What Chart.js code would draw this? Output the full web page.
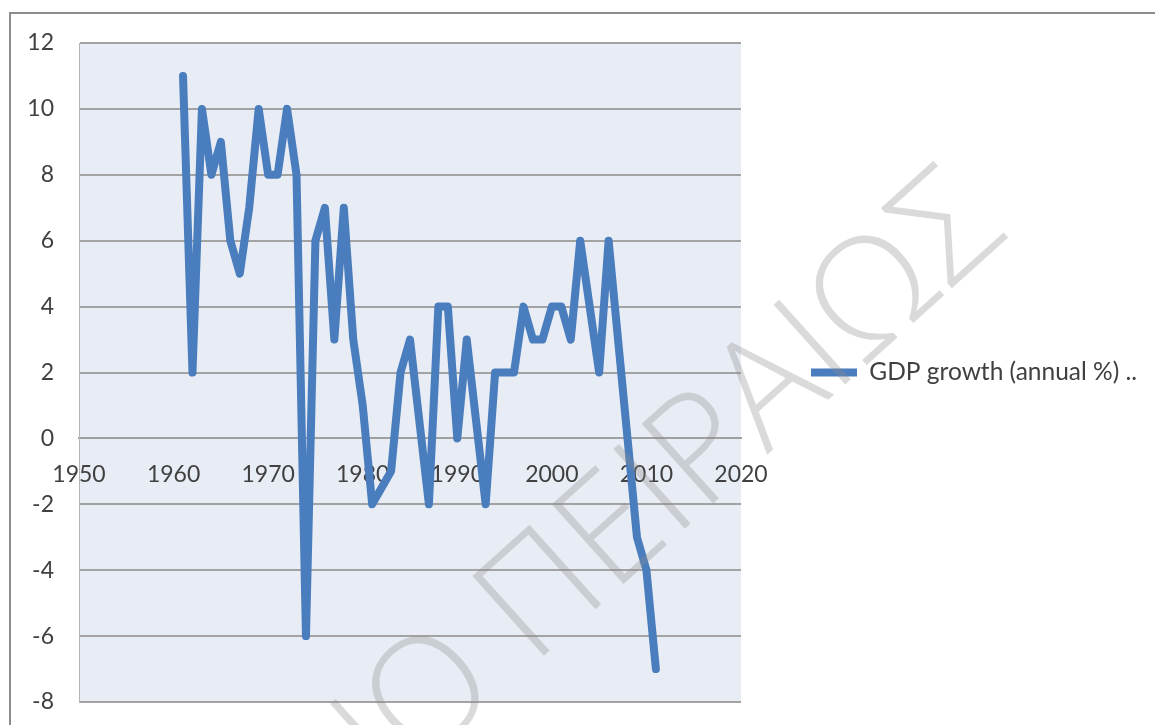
<!DOCTYPE html>
<html>
<head>
<meta charset="utf-8">
<script src="https://cdn.jsdelivr.net/npm/chart.js@4.4.1/dist/chart.umd.min.js"></script>
<style>
  html, body { margin: 0; padding: 0; background: #ffffff; }
  #wrap { width: 1155px; height: 725px; }
</style>
</head>
<body>
<div id="wrap"><canvas id="c" width="1155" height="725"></canvas></div>
<script>
// Greece, GDP growth (annual %), 1961-2011
const years = [
  1961, 1962, 1963, 1964, 1965, 1966, 1967, 1968, 1969, 1970,
  1971, 1972, 1973, 1974, 1975, 1976, 1977, 1978, 1979, 1980,
  1981, 1982, 1983, 1984, 1985, 1986, 1987, 1988, 1989, 1990,
  1991, 1992, 1993, 1994, 1995, 1996, 1997, 1998, 1999, 2000,
  2001, 2002, 2003, 2004, 2005, 2006, 2007, 2008, 2009, 2010, 2011
];
const growth = [
  11, 2, 10, 8, 9, 6, 5, 7, 10, 8,
  8, 10, 8, -6, 6, 7, 3, 7, 3, 1,
  -2, -1.5, -1, 2, 3, 0.5, -2, 4, 4, 0,
  3, 0.5, -2, 2, 2, 2, 4, 3, 3, 4,
  4, 3, 6, 4, 2, 6, 3, 0, -3, -4, -7
];
const seriesName = 'GDP growth (annual %) ..';
const xTicks = [1950, 1960, 1970, 1980, 1990, 2000, 2010, 2020];
const yTicks = [-8, -6, -4, -2, 0, 2, 4, 6, 8, 10, 12];
const watermark = 'ΠΑΝΕΠΙΣΤΗΜΙΟ ΠΕΙΡΑΙΩΣ';

const FONT = 'Lato, "Open Sans", "Liberation Sans", sans-serif';
const FONT_SIZE = 23;
const LEGEND_FONT_SIZE = 24.5;
const TEXT = '#404040';
const LINE = '#4a7dbd';

// plot geometry
const PLOT_LEFT = 79, PLOT_RIGHT = 741, PLOT_TOP = 43, PLOT_BOTTOM = 702;
const LEG_PAD = 70, LEG_LINE = 46;

const chartFrame = {
  id: 'chartFrame',
  beforeDraw(chart) {
    const { ctx, chartArea: a } = chart;
    ctx.save();
    ctx.fillStyle = '#ffffff';
    ctx.fillRect(0, 0, chart.width, chart.height);
    ctx.fillStyle = '#e8ecf4';
    ctx.fillRect(a.left, a.top, a.right - a.left, a.bottom - a.top);
    // outer chart border
    ctx.strokeStyle = '#8c8c8c';
    ctx.lineWidth = 2;
    ctx.beginPath();
    ctx.moveTo(10, chart.height + 5);
    ctx.lineTo(10, 13);
    ctx.lineTo(chart.width + 5, 13);
    ctx.stroke();
    ctx.restore();
  },
  afterDraw(chart) {
    const { ctx } = chart;
    ctx.save();
    ctx.translate(1010, 236);
    ctx.rotate(-42 * Math.PI / 180);
    ctx.font = '300 150px "Open Sans", "Noto Sans", "DejaVu Sans", sans-serif';
    ctx.fillStyle = 'rgba(140,140,140,0.32)';
    ctx.textAlign = 'right';
    ctx.textBaseline = 'alphabetic';
    ctx.fillText(watermark, 0, 0);
    ctx.restore();
  }
};

const config = {
  type: 'scatter',
  data: {
    datasets: [{
      label: seriesName,
      data: years.map((y, i) => ({ x: y, y: growth[i] })),
      showLine: true,
      borderColor: LINE,
      backgroundColor: LINE,
      borderWidth: 8,
      borderJoinStyle: 'round',
      borderCapStyle: 'round',
      pointRadius: 0,
      pointHoverRadius: 0,
      tension: 0
    }]
  },
  options: {
    responsive: false,
    animation: false,
    events: [],
    layout: { padding: { left: 0, top: PLOT_TOP, bottom: 725 - PLOT_BOTTOM, right: 10 } },
    scales: {
      x: {
        type: 'linear',
        min: 1950,
        max: 2020,
        position: { y: 0 },
        afterBuildTicks(scale) { scale.ticks = xTicks.map(v => ({ value: v })); },
        ticks: {
          callback: v => String(v),
          color: TEXT,
          font: { family: FONT, size: FONT_SIZE },
          padding: 22,
          maxRotation: 0,
          autoSkip: false
        },
        grid: { display: false, drawTicks: false },
        border: { display: true, color: '#a0a0a0', width: 2 }
      },
      y: {
        type: 'linear',
        min: -8,
        max: 12,
        afterBuildTicks(scale) { scale.ticks = yTicks.map(v => ({ value: v })); },
        afterFit(scale) { scale.width = PLOT_LEFT; },
        ticks: {
          callback: v => String(v),
          color: TEXT,
          font: { family: FONT, size: FONT_SIZE },
          padding: 0
        },
        // invisible tick marks keep the labels clear of the plot edge
        grid: { color: '#a3a3a3', lineWidth: 2, drawTicks: true, tickLength: 25, tickColor: 'rgba(0,0,0,0)' },
        border: { display: true, color: '#b4b4b4', width: 1 }
      }
    },
    plugins: {
      tooltip: { enabled: false },
      legend: {
        display: true,
        position: 'right',
        align: 'center',
        maxWidth: 600,
        labels: {
          usePointStyle: true,
          pointStyle: 'line',
          pointStyleWidth: LEG_LINE,
          padding: LEG_PAD,
          color: TEXT,
          font: { family: FONT, size: LEGEND_FONT_SIZE }
        }
      }
    }
  },
  plugins: [chartFrame]
};

const chart = new Chart(document.getElementById('c'), config);

// settle the plot area on its intended edges
const pad = config.options.layout.padding;
for (let i = 0; i < 3; i++) {
  const a = chart.chartArea;
  pad.right += a.right - PLOT_RIGHT;
  pad.bottom += a.bottom - PLOT_BOTTOM;
  chart.options.layout.padding = { ...pad };
  chart.update();
}
</script>
</body>
</html>
